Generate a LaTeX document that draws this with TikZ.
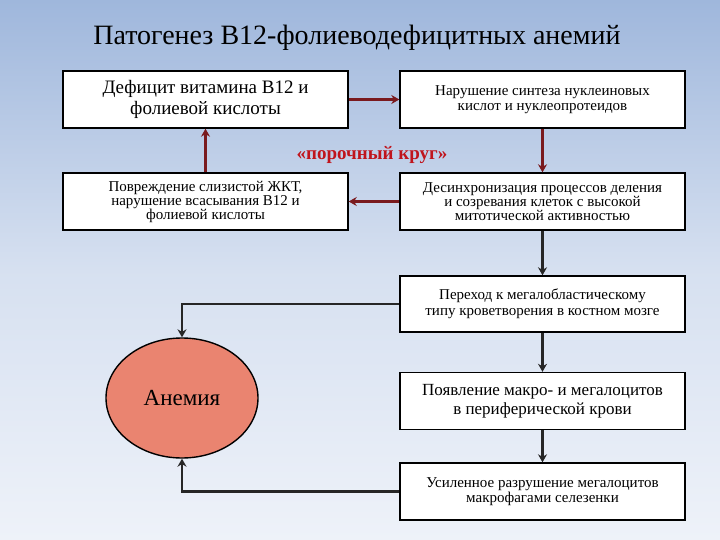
\documentclass[tikz,border=0pt]{standalone}
\usepackage{fontspec}
\setmainfont{Liberation Serif}
\newfontfamily\tnr{Liberation Serif}
\usetikzlibrary{arrows.meta,shapes.geometric}
\definecolor{bgtop}{HTML}{9FB7DC}
\definecolor{bgbot}{HTML}{EEF2F9}
\definecolor{darkred}{HTML}{7A1A1E}
\definecolor{salmon}{HTML}{EA8470}
\definecolor{redtxt}{HTML}{C0141C}
\begin{document}
\begin{tikzpicture}[x=1pt,y=-1pt,
  box/.style={draw=black,line width=1.4pt,fill=white,minimum width=285pt,minimum height=57pt,align=center,inner sep=2pt},
  rarr/.style={draw=darkred,line width=3pt,-{Stealth[length=8pt,width=9pt]}},
  barr/.style={draw=black!85,line width=2.2pt,-{Stealth[length=8pt,width=9pt]}}]
\shade[top color=bgtop,bottom color=bgbot,middle color=bgbot!70!bgtop] (0,0) rectangle (720,540);
\useasboundingbox (0,0) rectangle (720,540);
\node (title) at (357,38) {\tnr\fontsize{28}{30}\selectfont Патогенез B12-фолиеводефицитных анемий};
\node[box,font=\tnr\fontsize{19}{21}\selectfont] (A) at (205.5,99.5) {Дефицит витамина B12 и\\фолиевой кислоты};
\node[box,font=\tnr\fontsize{15}{15}\selectfont] (B) at (542.5,99.5) {Нарушение синтеза нуклеиновых\\кислот и нуклеопротеидов};
\node[box,font=\tnr\fontsize{15}{14}\selectfont] (C) at (205.5,201.5) {Повреждение слизистой ЖКТ,\\нарушение всасывания B12 и\\фолиевой кислоты};
\node[box,font=\tnr\fontsize{15}{14}\selectfont] (D) at (542.5,201.5) {Десинхронизация процессов деления\\и созревания клеток с высокой\\митотической активностью};
\node[box,minimum height=56pt,font=\tnr\fontsize{15}{16}\selectfont] (E) at (542.5,304) {Переход к мегалобластическому\\типу кроветворения в костном мозге};
\node[box,font=\tnr\fontsize{17}{19}\selectfont] (F) at (542.5,401) {Появление макро- и мегалоцитов\\в периферической крови};
\node[box,font=\tnr\fontsize{15}{15}\selectfont] (G) at (542.5,491.5) {Усиленное разрушение мегалоцитов\\макрофагами селезенки};
\node[ellipse,draw=black,line width=1.4pt,fill=salmon,minimum width=152pt,minimum height=120pt,font=\tnr\fontsize{23}{24}\selectfont] (H) at (182,398) {Анемия};
\node[text=redtxt,font=\tnr\bfseries\fontsize{19}{20}\selectfont] (vc) at (372,155) {«порочный круг»};
\draw[rarr] (A.east) -- (B.west);
\draw[rarr] (B.south) -- (D.north);
\draw[rarr] (D.west) -- (C.east);
\draw[rarr] (C.north) -- (A.south);
\draw[barr] (D.south) -- (E.north);
\draw[barr] (E.south) -- (F.north);
\draw[barr] (F.south) -- (G.north);
\draw[barr] (E.west) -| (H.north);
\draw[barr] (G.west) -| (H.south);
\end{tikzpicture}
\end{document}
